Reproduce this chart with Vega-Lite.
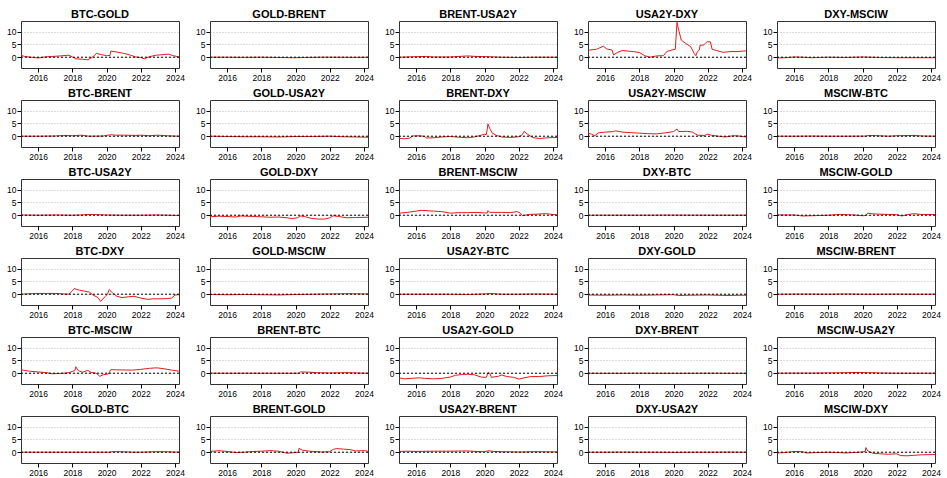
{
"$schema": "https://vega.github.io/schema/vega-lite/v6.json",
"padding": {"left": 6, "top": 8, "right": 0, "bottom": 0},
"background": "white",
"bounds": "flush",
"data": {"values": [
{"p":"BTC-GOLD","t":2015.0,"v":0.8},{"p":"BTC-GOLD","t":2015.2,"v":0.3},{"p":"BTC-GOLD","t":2015.6,"v":0.0},{"p":"BTC-GOLD","t":2016.0,"v":-0.3},{"p":"BTC-GOLD","t":2016.4,"v":0.1},{"p":"BTC-GOLD","t":2016.8,"v":0.3},{"p":"BTC-GOLD","t":2017.3,"v":0.5},{"p":"BTC-GOLD","t":2017.8,"v":0.8},{"p":"BTC-GOLD","t":2018.0,"v":0.1},{"p":"BTC-GOLD","t":2018.2,"v":-0.6},{"p":"BTC-GOLD","t":2018.6,"v":-0.8},{"p":"BTC-GOLD","t":2018.9,"v":-1.0},{"p":"BTC-GOLD","t":2019.1,"v":-0.3},{"p":"BTC-GOLD","t":2019.3,"v":0.7},{"p":"BTC-GOLD","t":2019.4,"v":1.5},{"p":"BTC-GOLD","t":2019.7,"v":1.0},{"p":"BTC-GOLD","t":2020.0,"v":0.6},{"p":"BTC-GOLD","t":2020.2,"v":0.7},{"p":"BTC-GOLD","t":2020.25,"v":2.4},{"p":"BTC-GOLD","t":2020.6,"v":2.0},{"p":"BTC-GOLD","t":2021.0,"v":1.5},{"p":"BTC-GOLD","t":2021.4,"v":0.8},{"p":"BTC-GOLD","t":2021.7,"v":0.1},{"p":"BTC-GOLD","t":2022.0,"v":-0.1},{"p":"BTC-GOLD","t":2022.2,"v":-0.6},{"p":"BTC-GOLD","t":2022.5,"v":0.2},{"p":"BTC-GOLD","t":2022.9,"v":0.8},{"p":"BTC-GOLD","t":2023.3,"v":1.0},{"p":"BTC-GOLD","t":2023.6,"v":1.2},{"p":"BTC-GOLD","t":2023.9,"v":0.6},{"p":"BTC-GOLD","t":2024.23,"v":0.1},
{"p":"GOLD-BRENT","t":2015.0,"v":0.0},{"p":"GOLD-BRENT","t":2016.0,"v":0.0},{"p":"GOLD-BRENT","t":2017.0,"v":-0.05},{"p":"GOLD-BRENT","t":2018.0,"v":0.0},{"p":"GOLD-BRENT","t":2019.0,"v":-0.1},{"p":"GOLD-BRENT","t":2019.9,"v":-0.2},{"p":"GOLD-BRENT","t":2020.5,"v":-0.1},{"p":"GOLD-BRENT","t":2021.5,"v":0.0},{"p":"GOLD-BRENT","t":2022.5,"v":0.0},{"p":"GOLD-BRENT","t":2023.5,"v":-0.05},{"p":"GOLD-BRENT","t":2024.23,"v":0.0},
{"p":"BRENT-USA2Y","t":2015.0,"v":0.0},{"p":"BRENT-USA2Y","t":2016.0,"v":0.2},{"p":"BRENT-USA2Y","t":2016.6,"v":0.3},{"p":"BRENT-USA2Y","t":2017.0,"v":0.1},{"p":"BRENT-USA2Y","t":2018.0,"v":0.1},{"p":"BRENT-USA2Y","t":2018.5,"v":0.3},{"p":"BRENT-USA2Y","t":2019.0,"v":0.5},{"p":"BRENT-USA2Y","t":2019.5,"v":0.3},{"p":"BRENT-USA2Y","t":2020.2,"v":0.2},{"p":"BRENT-USA2Y","t":2021.0,"v":0.0},{"p":"BRENT-USA2Y","t":2022.0,"v":-0.1},{"p":"BRENT-USA2Y","t":2023.0,"v":0.0},{"p":"BRENT-USA2Y","t":2024.23,"v":0.0},
{"p":"USA2Y-DXY","t":2015.0,"v":2.2},{"p":"USA2Y-DXY","t":2015.1,"v":2.8},{"p":"USA2Y-DXY","t":2015.5,"v":3.1},{"p":"USA2Y-DXY","t":2015.7,"v":3.7},{"p":"USA2Y-DXY","t":2015.9,"v":4.3},{"p":"USA2Y-DXY","t":2016.1,"v":3.2},{"p":"USA2Y-DXY","t":2016.4,"v":2.8},{"p":"USA2Y-DXY","t":2016.5,"v":0.9},{"p":"USA2Y-DXY","t":2016.7,"v":1.8},{"p":"USA2Y-DXY","t":2017.0,"v":2.6},{"p":"USA2Y-DXY","t":2017.65,"v":2.2},{"p":"USA2Y-DXY","t":2018.0,"v":1.8},{"p":"USA2Y-DXY","t":2018.35,"v":0.5},{"p":"USA2Y-DXY","t":2018.6,"v":0.0},{"p":"USA2Y-DXY","t":2019.0,"v":0.5},{"p":"USA2Y-DXY","t":2019.4,"v":0.6},{"p":"USA2Y-DXY","t":2019.6,"v":2.2},{"p":"USA2Y-DXY","t":2019.9,"v":2.8},{"p":"USA2Y-DXY","t":2020.1,"v":3.1},{"p":"USA2Y-DXY","t":2020.2,"v":13.6},{"p":"USA2Y-DXY","t":2020.3,"v":10.5},{"p":"USA2Y-DXY","t":2020.45,"v":6.7},{"p":"USA2Y-DXY","t":2020.7,"v":5.4},{"p":"USA2Y-DXY","t":2021.0,"v":4.1},{"p":"USA2Y-DXY","t":2021.2,"v":1.5},{"p":"USA2Y-DXY","t":2021.3,"v":0.6},{"p":"USA2Y-DXY","t":2021.4,"v":2.2},{"p":"USA2Y-DXY","t":2021.5,"v":2.8},{"p":"USA2Y-DXY","t":2021.55,"v":4.7},{"p":"USA2Y-DXY","t":2021.75,"v":4.7},{"p":"USA2Y-DXY","t":2021.85,"v":5.4},{"p":"USA2Y-DXY","t":2021.95,"v":6.0},{"p":"USA2Y-DXY","t":2022.15,"v":6.0},{"p":"USA2Y-DXY","t":2022.25,"v":3.1},{"p":"USA2Y-DXY","t":2022.5,"v":2.6},{"p":"USA2Y-DXY","t":2022.9,"v":1.9},{"p":"USA2Y-DXY","t":2023.3,"v":2.2},{"p":"USA2Y-DXY","t":2023.7,"v":2.2},{"p":"USA2Y-DXY","t":2024.1,"v":2.4},{"p":"USA2Y-DXY","t":2024.23,"v":2.5},
{"p":"DXY-MSCIW","t":2015.0,"v":-0.3},{"p":"DXY-MSCIW","t":2015.5,"v":-0.2},{"p":"DXY-MSCIW","t":2016.0,"v":0.1},{"p":"DXY-MSCIW","t":2016.5,"v":0.0},{"p":"DXY-MSCIW","t":2017.0,"v":-0.2},{"p":"DXY-MSCIW","t":2018.0,"v":0.0},{"p":"DXY-MSCIW","t":2019.0,"v":-0.1},{"p":"DXY-MSCIW","t":2020.0,"v":0.1},{"p":"DXY-MSCIW","t":2021.0,"v":-0.1},{"p":"DXY-MSCIW","t":2022.0,"v":-0.2},{"p":"DXY-MSCIW","t":2023.0,"v":-0.2},{"p":"DXY-MSCIW","t":2024.23,"v":-0.2},
{"p":"BTC-BRENT","t":2015.0,"v":0.0},{"p":"BTC-BRENT","t":2016.0,"v":0.0},{"p":"BTC-BRENT","t":2017.0,"v":0.1},{"p":"BTC-BRENT","t":2017.5,"v":0.3},{"p":"BTC-BRENT","t":2018.0,"v":0.2},{"p":"BTC-BRENT","t":2018.5,"v":0.4},{"p":"BTC-BRENT","t":2019.0,"v":0.0},{"p":"BTC-BRENT","t":2019.8,"v":0.1},{"p":"BTC-BRENT","t":2020.25,"v":0.6},{"p":"BTC-BRENT","t":2020.5,"v":0.4},{"p":"BTC-BRENT","t":2021.0,"v":0.4},{"p":"BTC-BRENT","t":2021.7,"v":0.3},{"p":"BTC-BRENT","t":2022.0,"v":0.4},{"p":"BTC-BRENT","t":2022.5,"v":0.2},{"p":"BTC-BRENT","t":2023.0,"v":0.4},{"p":"BTC-BRENT","t":2023.5,"v":0.2},{"p":"BTC-BRENT","t":2024.23,"v":0.0},
{"p":"GOLD-USA2Y","t":2015.0,"v":0.0},{"p":"GOLD-USA2Y","t":2016.0,"v":-0.1},{"p":"GOLD-USA2Y","t":2017.0,"v":-0.2},{"p":"GOLD-USA2Y","t":2018.0,"v":-0.2},{"p":"GOLD-USA2Y","t":2019.0,"v":-0.3},{"p":"GOLD-USA2Y","t":2020.0,"v":-0.1},{"p":"GOLD-USA2Y","t":2021.0,"v":-0.1},{"p":"GOLD-USA2Y","t":2022.0,"v":0.0},{"p":"GOLD-USA2Y","t":2022.8,"v":-0.2},{"p":"GOLD-USA2Y","t":2023.5,"v":-0.3},{"p":"GOLD-USA2Y","t":2024.23,"v":-0.4},
{"p":"BRENT-DXY","t":2015.0,"v":-0.8},{"p":"BRENT-DXY","t":2015.3,"v":-1.0},{"p":"BRENT-DXY","t":2015.6,"v":-0.8},{"p":"BRENT-DXY","t":2015.8,"v":0.1},{"p":"BRENT-DXY","t":2016.2,"v":0.2},{"p":"BRENT-DXY","t":2016.5,"v":-0.1},{"p":"BRENT-DXY","t":2016.6,"v":-0.7},{"p":"BRENT-DXY","t":2017.0,"v":-0.6},{"p":"BRENT-DXY","t":2017.5,"v":-0.3},{"p":"BRENT-DXY","t":2018.0,"v":-0.1},{"p":"BRENT-DXY","t":2018.5,"v":-0.4},{"p":"BRENT-DXY","t":2019.0,"v":-0.6},{"p":"BRENT-DXY","t":2019.4,"v":-0.3},{"p":"BRENT-DXY","t":2019.8,"v":0.4},{"p":"BRENT-DXY","t":2020.0,"v":0.8},{"p":"BRENT-DXY","t":2020.1,"v":0.6},{"p":"BRENT-DXY","t":2020.2,"v":4.8},{"p":"BRENT-DXY","t":2020.3,"v":3.0},{"p":"BRENT-DXY","t":2020.45,"v":1.2},{"p":"BRENT-DXY","t":2020.7,"v":0.3},{"p":"BRENT-DXY","t":2021.0,"v":-0.3},{"p":"BRENT-DXY","t":2021.5,"v":-0.5},{"p":"BRENT-DXY","t":2022.0,"v":-0.2},{"p":"BRENT-DXY","t":2022.2,"v":0.6},{"p":"BRENT-DXY","t":2022.3,"v":1.9},{"p":"BRENT-DXY","t":2022.5,"v":0.8},{"p":"BRENT-DXY","t":2022.8,"v":-0.5},{"p":"BRENT-DXY","t":2023.2,"v":-0.9},{"p":"BRENT-DXY","t":2023.7,"v":-0.6},{"p":"BRENT-DXY","t":2024.23,"v":-0.5},
{"p":"USA2Y-MSCIW","t":2015.0,"v":1.2},{"p":"USA2Y-MSCIW","t":2015.2,"v":0.8},{"p":"USA2Y-MSCIW","t":2015.4,"v":0.2},{"p":"USA2Y-MSCIW","t":2015.6,"v":1.3},{"p":"USA2Y-MSCIW","t":2016.0,"v":1.6},{"p":"USA2Y-MSCIW","t":2016.5,"v":1.8},{"p":"USA2Y-MSCIW","t":2016.6,"v":2.1},{"p":"USA2Y-MSCIW","t":2017.0,"v":1.6},{"p":"USA2Y-MSCIW","t":2017.5,"v":1.4},{"p":"USA2Y-MSCIW","t":2018.0,"v":1.2},{"p":"USA2Y-MSCIW","t":2018.5,"v":1.0},{"p":"USA2Y-MSCIW","t":2019.0,"v":0.9},{"p":"USA2Y-MSCIW","t":2019.5,"v":1.3},{"p":"USA2Y-MSCIW","t":2020.0,"v":1.8},{"p":"USA2Y-MSCIW","t":2020.2,"v":2.8},{"p":"USA2Y-MSCIW","t":2020.3,"v":1.8},{"p":"USA2Y-MSCIW","t":2020.8,"v":1.9},{"p":"USA2Y-MSCIW","t":2021.1,"v":1.6},{"p":"USA2Y-MSCIW","t":2021.4,"v":0.4},{"p":"USA2Y-MSCIW","t":2021.8,"v":0.3},{"p":"USA2Y-MSCIW","t":2022.0,"v":0.8},{"p":"USA2Y-MSCIW","t":2022.2,"v":0.4},{"p":"USA2Y-MSCIW","t":2022.5,"v":0.1},{"p":"USA2Y-MSCIW","t":2023.0,"v":-0.3},{"p":"USA2Y-MSCIW","t":2023.5,"v":0.2},{"p":"USA2Y-MSCIW","t":2023.8,"v":0.1},{"p":"USA2Y-MSCIW","t":2024.23,"v":-0.3},
{"p":"MSCIW-BTC","t":2015.0,"v":0.0},{"p":"MSCIW-BTC","t":2016.0,"v":0.0},{"p":"MSCIW-BTC","t":2017.0,"v":0.05},{"p":"MSCIW-BTC","t":2018.0,"v":0.0},{"p":"MSCIW-BTC","t":2019.0,"v":0.0},{"p":"MSCIW-BTC","t":2020.2,"v":0.05},{"p":"MSCIW-BTC","t":2020.3,"v":0.3},{"p":"MSCIW-BTC","t":2021.0,"v":0.2},{"p":"MSCIW-BTC","t":2021.5,"v":0.0},{"p":"MSCIW-BTC","t":2022.0,"v":0.2},{"p":"MSCIW-BTC","t":2023.0,"v":0.3},{"p":"MSCIW-BTC","t":2023.5,"v":0.1},{"p":"MSCIW-BTC","t":2024.23,"v":0.0},
{"p":"BTC-USA2Y","t":2015.0,"v":0.1},{"p":"BTC-USA2Y","t":2016.0,"v":0.0},{"p":"BTC-USA2Y","t":2017.0,"v":0.1},{"p":"BTC-USA2Y","t":2018.0,"v":0.0},{"p":"BTC-USA2Y","t":2018.5,"v":0.1},{"p":"BTC-USA2Y","t":2019.0,"v":0.3},{"p":"BTC-USA2Y","t":2019.5,"v":0.2},{"p":"BTC-USA2Y","t":2020.0,"v":0.1},{"p":"BTC-USA2Y","t":2021.0,"v":0.0},{"p":"BTC-USA2Y","t":2022.0,"v":0.0},{"p":"BTC-USA2Y","t":2023.0,"v":0.1},{"p":"BTC-USA2Y","t":2024.23,"v":-0.1},
{"p":"GOLD-DXY","t":2015.0,"v":-0.6},{"p":"GOLD-DXY","t":2015.5,"v":-0.4},{"p":"GOLD-DXY","t":2016.0,"v":-0.5},{"p":"GOLD-DXY","t":2016.5,"v":-0.7},{"p":"GOLD-DXY","t":2016.8,"v":-0.3},{"p":"GOLD-DXY","t":2017.5,"v":-0.5},{"p":"GOLD-DXY","t":2018.0,"v":-0.6},{"p":"GOLD-DXY","t":2018.5,"v":-0.8},{"p":"GOLD-DXY","t":2019.0,"v":-0.7},{"p":"GOLD-DXY","t":2019.5,"v":-1.0},{"p":"GOLD-DXY","t":2019.8,"v":-1.3},{"p":"GOLD-DXY","t":2020.1,"v":-1.0},{"p":"GOLD-DXY","t":2020.3,"v":-0.3},{"p":"GOLD-DXY","t":2020.5,"v":-0.5},{"p":"GOLD-DXY","t":2020.9,"v":-1.2},{"p":"GOLD-DXY","t":2021.3,"v":-1.5},{"p":"GOLD-DXY","t":2021.7,"v":-1.5},{"p":"GOLD-DXY","t":2022.0,"v":-1.0},{"p":"GOLD-DXY","t":2022.2,"v":-0.2},{"p":"GOLD-DXY","t":2022.5,"v":-0.5},{"p":"GOLD-DXY","t":2023.0,"v":-1.0},{"p":"GOLD-DXY","t":2023.5,"v":-0.9},{"p":"GOLD-DXY","t":2024.23,"v":-0.8},
{"p":"BRENT-MSCIW","t":2015.0,"v":0.8},{"p":"BRENT-MSCIW","t":2015.5,"v":1.1},{"p":"BRENT-MSCIW","t":2016.0,"v":1.6},{"p":"BRENT-MSCIW","t":2016.3,"v":1.9},{"p":"BRENT-MSCIW","t":2017.0,"v":1.6},{"p":"BRENT-MSCIW","t":2017.5,"v":1.4},{"p":"BRENT-MSCIW","t":2018.0,"v":0.8},{"p":"BRENT-MSCIW","t":2018.5,"v":1.0},{"p":"BRENT-MSCIW","t":2019.0,"v":1.0},{"p":"BRENT-MSCIW","t":2019.5,"v":1.1},{"p":"BRENT-MSCIW","t":2020.0,"v":0.9},{"p":"BRENT-MSCIW","t":2020.15,"v":0.8},{"p":"BRENT-MSCIW","t":2020.2,"v":1.8},{"p":"BRENT-MSCIW","t":2020.3,"v":1.1},{"p":"BRENT-MSCIW","t":2021.0,"v":1.1},{"p":"BRENT-MSCIW","t":2021.5,"v":1.0},{"p":"BRENT-MSCIW","t":2021.9,"v":1.4},{"p":"BRENT-MSCIW","t":2022.1,"v":0.8},{"p":"BRENT-MSCIW","t":2022.2,"v":-0.2},{"p":"BRENT-MSCIW","t":2022.6,"v":0.3},{"p":"BRENT-MSCIW","t":2023.0,"v":0.4},{"p":"BRENT-MSCIW","t":2023.6,"v":0.6},{"p":"BRENT-MSCIW","t":2024.23,"v":0.1},
{"p":"DXY-BTC","t":2015.0,"v":0.0},{"p":"DXY-BTC","t":2016.0,"v":0.0},{"p":"DXY-BTC","t":2018.0,"v":0.0},{"p":"DXY-BTC","t":2020.0,"v":0.05},{"p":"DXY-BTC","t":2022.0,"v":0.0},{"p":"DXY-BTC","t":2024.23,"v":0.0},
{"p":"MSCIW-GOLD","t":2015.0,"v":0.1},{"p":"MSCIW-GOLD","t":2016.0,"v":0.1},{"p":"MSCIW-GOLD","t":2016.5,"v":-0.3},{"p":"MSCIW-GOLD","t":2017.0,"v":-0.2},{"p":"MSCIW-GOLD","t":2018.0,"v":0.0},{"p":"MSCIW-GOLD","t":2018.7,"v":0.3},{"p":"MSCIW-GOLD","t":2019.5,"v":0.1},{"p":"MSCIW-GOLD","t":2020.0,"v":-0.2},{"p":"MSCIW-GOLD","t":2020.2,"v":-0.1},{"p":"MSCIW-GOLD","t":2020.3,"v":0.8},{"p":"MSCIW-GOLD","t":2020.6,"v":0.5},{"p":"MSCIW-GOLD","t":2021.5,"v":0.3},{"p":"MSCIW-GOLD","t":2022.0,"v":0.2},{"p":"MSCIW-GOLD","t":2022.3,"v":-0.3},{"p":"MSCIW-GOLD","t":2022.6,"v":0.2},{"p":"MSCIW-GOLD","t":2023.0,"v":0.6},{"p":"MSCIW-GOLD","t":2023.4,"v":0.3},{"p":"MSCIW-GOLD","t":2024.23,"v":0.3},
{"p":"BTC-DXY","t":2015.0,"v":0.0},{"p":"BTC-DXY","t":2015.5,"v":0.2},{"p":"BTC-DXY","t":2016.0,"v":0.3},{"p":"BTC-DXY","t":2016.5,"v":0.3},{"p":"BTC-DXY","t":2017.0,"v":0.3},{"p":"BTC-DXY","t":2017.5,"v":0.1},{"p":"BTC-DXY","t":2017.8,"v":0.0},{"p":"BTC-DXY","t":2018.0,"v":1.3},{"p":"BTC-DXY","t":2018.1,"v":2.2},{"p":"BTC-DXY","t":2018.4,"v":1.6},{"p":"BTC-DXY","t":2018.7,"v":1.2},{"p":"BTC-DXY","t":2019.0,"v":0.8},{"p":"BTC-DXY","t":2019.2,"v":-0.3},{"p":"BTC-DXY","t":2019.5,"v":-1.3},{"p":"BTC-DXY","t":2019.65,"v":-2.8},{"p":"BTC-DXY","t":2019.9,"v":-1.0},{"p":"BTC-DXY","t":2020.05,"v":0.0},{"p":"BTC-DXY","t":2020.15,"v":1.8},{"p":"BTC-DXY","t":2020.35,"v":0.5},{"p":"BTC-DXY","t":2020.6,"v":-0.8},{"p":"BTC-DXY","t":2020.9,"v":-1.3},{"p":"BTC-DXY","t":2021.3,"v":-1.0},{"p":"BTC-DXY","t":2021.6,"v":-0.8},{"p":"BTC-DXY","t":2022.0,"v":-1.5},{"p":"BTC-DXY","t":2022.4,"v":-2.0},{"p":"BTC-DXY","t":2022.7,"v":-1.8},{"p":"BTC-DXY","t":2023.0,"v":-1.8},{"p":"BTC-DXY","t":2023.5,"v":-1.7},{"p":"BTC-DXY","t":2023.8,"v":-1.5},{"p":"BTC-DXY","t":2024.0,"v":-0.3},{"p":"BTC-DXY","t":2024.23,"v":-0.2},
{"p":"GOLD-MSCIW","t":2015.0,"v":-0.1},{"p":"GOLD-MSCIW","t":2016.0,"v":-0.2},{"p":"GOLD-MSCIW","t":2017.0,"v":-0.1},{"p":"GOLD-MSCIW","t":2018.0,"v":-0.2},{"p":"GOLD-MSCIW","t":2019.0,"v":-0.3},{"p":"GOLD-MSCIW","t":2020.0,"v":-0.1},{"p":"GOLD-MSCIW","t":2021.0,"v":0.0},{"p":"GOLD-MSCIW","t":2022.0,"v":0.1},{"p":"GOLD-MSCIW","t":2023.0,"v":0.2},{"p":"GOLD-MSCIW","t":2024.23,"v":0.1},
{"p":"USA2Y-BTC","t":2015.0,"v":0.0},{"p":"USA2Y-BTC","t":2016.0,"v":0.0},{"p":"USA2Y-BTC","t":2017.0,"v":0.0},{"p":"USA2Y-BTC","t":2018.0,"v":0.0},{"p":"USA2Y-BTC","t":2019.0,"v":-0.1},{"p":"USA2Y-BTC","t":2020.0,"v":0.1},{"p":"USA2Y-BTC","t":2020.3,"v":0.3},{"p":"USA2Y-BTC","t":2021.0,"v":0.0},{"p":"USA2Y-BTC","t":2022.0,"v":0.0},{"p":"USA2Y-BTC","t":2023.0,"v":0.1},{"p":"USA2Y-BTC","t":2024.23,"v":0.0},
{"p":"DXY-GOLD","t":2015.0,"v":-0.3},{"p":"DXY-GOLD","t":2016.0,"v":-0.4},{"p":"DXY-GOLD","t":2017.0,"v":-0.3},{"p":"DXY-GOLD","t":2018.0,"v":-0.4},{"p":"DXY-GOLD","t":2019.0,"v":-0.3},{"p":"DXY-GOLD","t":2020.0,"v":-0.2},{"p":"DXY-GOLD","t":2020.3,"v":-0.5},{"p":"DXY-GOLD","t":2021.0,"v":-0.4},{"p":"DXY-GOLD","t":2022.0,"v":-0.3},{"p":"DXY-GOLD","t":2023.0,"v":-0.5},{"p":"DXY-GOLD","t":2024.23,"v":-0.4},
{"p":"MSCIW-BRENT","t":2015.0,"v":0.0},{"p":"MSCIW-BRENT","t":2016.0,"v":0.05},{"p":"MSCIW-BRENT","t":2017.0,"v":0.05},{"p":"MSCIW-BRENT","t":2018.0,"v":0.0},{"p":"MSCIW-BRENT","t":2019.0,"v":0.1},{"p":"MSCIW-BRENT","t":2020.0,"v":0.0},{"p":"MSCIW-BRENT","t":2021.0,"v":0.0},{"p":"MSCIW-BRENT","t":2022.0,"v":0.05},{"p":"MSCIW-BRENT","t":2023.0,"v":0.0},{"p":"MSCIW-BRENT","t":2024.23,"v":0.0},
{"p":"BTC-MSCIW","t":2015.0,"v":1.3},{"p":"BTC-MSCIW","t":2015.5,"v":0.8},{"p":"BTC-MSCIW","t":2016.0,"v":0.5},{"p":"BTC-MSCIW","t":2016.5,"v":0.2},{"p":"BTC-MSCIW","t":2016.8,"v":-0.2},{"p":"BTC-MSCIW","t":2017.3,"v":-0.1},{"p":"BTC-MSCIW","t":2017.8,"v":0.2},{"p":"BTC-MSCIW","t":2018.0,"v":0.7},{"p":"BTC-MSCIW","t":2018.15,"v":1.0},{"p":"BTC-MSCIW","t":2018.2,"v":2.5},{"p":"BTC-MSCIW","t":2018.35,"v":1.0},{"p":"BTC-MSCIW","t":2018.6,"v":0.4},{"p":"BTC-MSCIW","t":2018.9,"v":1.1},{"p":"BTC-MSCIW","t":2019.1,"v":0.3},{"p":"BTC-MSCIW","t":2019.4,"v":0.0},{"p":"BTC-MSCIW","t":2019.6,"v":-1.2},{"p":"BTC-MSCIW","t":2019.8,"v":-0.6},{"p":"BTC-MSCIW","t":2020.1,"v":-0.3},{"p":"BTC-MSCIW","t":2020.25,"v":1.4},{"p":"BTC-MSCIW","t":2020.6,"v":1.3},{"p":"BTC-MSCIW","t":2021.5,"v":1.2},{"p":"BTC-MSCIW","t":2022.0,"v":1.5},{"p":"BTC-MSCIW","t":2022.5,"v":1.9},{"p":"BTC-MSCIW","t":2022.9,"v":2.1},{"p":"BTC-MSCIW","t":2023.3,"v":1.8},{"p":"BTC-MSCIW","t":2023.8,"v":1.2},{"p":"BTC-MSCIW","t":2024.23,"v":0.8},
{"p":"BRENT-BTC","t":2015.0,"v":0.0},{"p":"BRENT-BTC","t":2016.0,"v":0.0},{"p":"BRENT-BTC","t":2017.0,"v":0.0},{"p":"BRENT-BTC","t":2018.0,"v":0.0},{"p":"BRENT-BTC","t":2019.0,"v":0.0},{"p":"BRENT-BTC","t":2020.2,"v":0.0},{"p":"BRENT-BTC","t":2020.3,"v":0.5},{"p":"BRENT-BTC","t":2020.8,"v":0.4},{"p":"BRENT-BTC","t":2021.2,"v":0.2},{"p":"BRENT-BTC","t":2022.0,"v":0.1},{"p":"BRENT-BTC","t":2023.0,"v":0.2},{"p":"BRENT-BTC","t":2024.23,"v":0.0},
{"p":"USA2Y-GOLD","t":2015.0,"v":-1.8},{"p":"USA2Y-GOLD","t":2015.3,"v":-2.2},{"p":"USA2Y-GOLD","t":2015.7,"v":-2.0},{"p":"USA2Y-GOLD","t":2016.2,"v":-1.8},{"p":"USA2Y-GOLD","t":2016.5,"v":-2.0},{"p":"USA2Y-GOLD","t":2017.0,"v":-2.2},{"p":"USA2Y-GOLD","t":2017.5,"v":-2.0},{"p":"USA2Y-GOLD","t":2018.0,"v":-1.5},{"p":"USA2Y-GOLD","t":2018.3,"v":-0.8},{"p":"USA2Y-GOLD","t":2018.7,"v":-0.5},{"p":"USA2Y-GOLD","t":2019.0,"v":-0.4},{"p":"USA2Y-GOLD","t":2019.4,"v":-0.6},{"p":"USA2Y-GOLD","t":2019.8,"v":-1.5},{"p":"USA2Y-GOLD","t":2020.1,"v":-1.6},{"p":"USA2Y-GOLD","t":2020.2,"v":0.2},{"p":"USA2Y-GOLD","t":2020.3,"v":0.0},{"p":"USA2Y-GOLD","t":2020.4,"v":-1.6},{"p":"USA2Y-GOLD","t":2020.8,"v":-1.2},{"p":"USA2Y-GOLD","t":2021.0,"v":-0.7},{"p":"USA2Y-GOLD","t":2021.3,"v":-1.3},{"p":"USA2Y-GOLD","t":2021.7,"v":-1.6},{"p":"USA2Y-GOLD","t":2022.0,"v":-2.3},{"p":"USA2Y-GOLD","t":2022.3,"v":-1.8},{"p":"USA2Y-GOLD","t":2022.7,"v":-1.3},{"p":"USA2Y-GOLD","t":2023.2,"v":-1.3},{"p":"USA2Y-GOLD","t":2023.7,"v":-1.0},{"p":"USA2Y-GOLD","t":2024.23,"v":-0.9},
{"p":"DXY-BRENT","t":2015.0,"v":0.0},{"p":"DXY-BRENT","t":2016.0,"v":-0.05},{"p":"DXY-BRENT","t":2018.0,"v":0.0},{"p":"DXY-BRENT","t":2020.0,"v":-0.05},{"p":"DXY-BRENT","t":2022.0,"v":0.0},{"p":"DXY-BRENT","t":2024.23,"v":-0.05},
{"p":"MSCIW-USA2Y","t":2015.0,"v":0.0},{"p":"MSCIW-USA2Y","t":2016.0,"v":0.05},{"p":"MSCIW-USA2Y","t":2017.0,"v":0.05},{"p":"MSCIW-USA2Y","t":2018.0,"v":0.1},{"p":"MSCIW-USA2Y","t":2019.0,"v":0.2},{"p":"MSCIW-USA2Y","t":2019.8,"v":0.3},{"p":"MSCIW-USA2Y","t":2020.3,"v":0.2},{"p":"MSCIW-USA2Y","t":2021.0,"v":0.1},{"p":"MSCIW-USA2Y","t":2022.0,"v":0.0},{"p":"MSCIW-USA2Y","t":2023.0,"v":0.0},{"p":"MSCIW-USA2Y","t":2024.23,"v":0.0},
{"p":"GOLD-BTC","t":2015.0,"v":0.0},{"p":"GOLD-BTC","t":2016.0,"v":0.0},{"p":"GOLD-BTC","t":2017.0,"v":0.0},{"p":"GOLD-BTC","t":2018.0,"v":0.0},{"p":"GOLD-BTC","t":2019.0,"v":0.0},{"p":"GOLD-BTC","t":2020.2,"v":0.0},{"p":"GOLD-BTC","t":2020.3,"v":0.2},{"p":"GOLD-BTC","t":2021.0,"v":0.2},{"p":"GOLD-BTC","t":2021.5,"v":0.0},{"p":"GOLD-BTC","t":2022.0,"v":0.0},{"p":"GOLD-BTC","t":2022.8,"v":0.2},{"p":"GOLD-BTC","t":2023.5,"v":0.2},{"p":"GOLD-BTC","t":2024.23,"v":0.0},
{"p":"BRENT-GOLD","t":2015.0,"v":0.3},{"p":"BRENT-GOLD","t":2015.5,"v":0.6},{"p":"BRENT-GOLD","t":2016.0,"v":0.3},{"p":"BRENT-GOLD","t":2016.5,"v":-0.1},{"p":"BRENT-GOLD","t":2017.0,"v":0.0},{"p":"BRENT-GOLD","t":2017.5,"v":0.3},{"p":"BRENT-GOLD","t":2018.0,"v":0.4},{"p":"BRENT-GOLD","t":2018.5,"v":0.6},{"p":"BRENT-GOLD","t":2019.0,"v":0.4},{"p":"BRENT-GOLD","t":2019.5,"v":-0.4},{"p":"BRENT-GOLD","t":2019.9,"v":-0.2},{"p":"BRENT-GOLD","t":2020.15,"v":0.0},{"p":"BRENT-GOLD","t":2020.2,"v":1.5},{"p":"BRENT-GOLD","t":2020.4,"v":0.8},{"p":"BRENT-GOLD","t":2020.8,"v":0.4},{"p":"BRENT-GOLD","t":2021.5,"v":0.1},{"p":"BRENT-GOLD","t":2022.0,"v":0.2},{"p":"BRENT-GOLD","t":2022.2,"v":1.1},{"p":"BRENT-GOLD","t":2022.4,"v":1.4},{"p":"BRENT-GOLD","t":2022.8,"v":1.2},{"p":"BRENT-GOLD","t":2023.2,"v":1.0},{"p":"BRENT-GOLD","t":2023.5,"v":0.5},{"p":"BRENT-GOLD","t":2024.0,"v":0.6},{"p":"BRENT-GOLD","t":2024.23,"v":0.4},
{"p":"USA2Y-BRENT","t":2015.0,"v":0.3},{"p":"USA2Y-BRENT","t":2015.5,"v":0.4},{"p":"USA2Y-BRENT","t":2016.0,"v":0.3},{"p":"USA2Y-BRENT","t":2017.0,"v":0.4},{"p":"USA2Y-BRENT","t":2018.0,"v":0.4},{"p":"USA2Y-BRENT","t":2019.0,"v":0.5},{"p":"USA2Y-BRENT","t":2019.5,"v":0.3},{"p":"USA2Y-BRENT","t":2020.0,"v":0.2},{"p":"USA2Y-BRENT","t":2020.25,"v":0.6},{"p":"USA2Y-BRENT","t":2020.5,"v":0.3},{"p":"USA2Y-BRENT","t":2021.0,"v":0.2},{"p":"USA2Y-BRENT","t":2022.0,"v":0.1},{"p":"USA2Y-BRENT","t":2023.0,"v":0.2},{"p":"USA2Y-BRENT","t":2024.23,"v":0.1},
{"p":"DXY-USA2Y","t":2015.0,"v":0.0},{"p":"DXY-USA2Y","t":2016.0,"v":0.0},{"p":"DXY-USA2Y","t":2017.0,"v":0.05},{"p":"DXY-USA2Y","t":2018.0,"v":0.0},{"p":"DXY-USA2Y","t":2019.0,"v":0.0},{"p":"DXY-USA2Y","t":2020.0,"v":-0.05},{"p":"DXY-USA2Y","t":2021.0,"v":0.0},{"p":"DXY-USA2Y","t":2022.0,"v":0.0},{"p":"DXY-USA2Y","t":2023.0,"v":0.05},{"p":"DXY-USA2Y","t":2024.23,"v":0.0},
{"p":"MSCIW-DXY","t":2015.0,"v":-0.3},{"p":"MSCIW-DXY","t":2015.5,"v":-0.1},{"p":"MSCIW-DXY","t":2016.0,"v":0.3},{"p":"MSCIW-DXY","t":2016.5,"v":0.2},{"p":"MSCIW-DXY","t":2016.7,"v":-0.3},{"p":"MSCIW-DXY","t":2017.5,"v":-0.1},{"p":"MSCIW-DXY","t":2018.0,"v":0.0},{"p":"MSCIW-DXY","t":2018.5,"v":-0.1},{"p":"MSCIW-DXY","t":2019.0,"v":-0.3},{"p":"MSCIW-DXY","t":2019.5,"v":-0.1},{"p":"MSCIW-DXY","t":2020.0,"v":0.1},{"p":"MSCIW-DXY","t":2020.15,"v":0.3},{"p":"MSCIW-DXY","t":2020.2,"v":1.8},{"p":"MSCIW-DXY","t":2020.3,"v":0.5},{"p":"MSCIW-DXY","t":2020.6,"v":-0.4},{"p":"MSCIW-DXY","t":2021.0,"v":-0.6},{"p":"MSCIW-DXY","t":2021.5,"v":-0.8},{"p":"MSCIW-DXY","t":2022.0,"v":-0.6},{"p":"MSCIW-DXY","t":2022.2,"v":-1.3},{"p":"MSCIW-DXY","t":2022.6,"v":-1.4},{"p":"MSCIW-DXY","t":2023.0,"v":-1.2},{"p":"MSCIW-DXY","t":2023.5,"v":-1.0},{"p":"MSCIW-DXY","t":2024.23,"v":-0.9}
]},
"facet": {"field": "p", "type": "nominal", "title": null,
  "sort": ["BTC-GOLD","GOLD-BRENT","BRENT-USA2Y","USA2Y-DXY","DXY-MSCIW","BTC-BRENT","GOLD-USA2Y","BRENT-DXY","USA2Y-MSCIW","MSCIW-BTC","BTC-USA2Y","GOLD-DXY","BRENT-MSCIW","DXY-BTC","MSCIW-GOLD","BTC-DXY","GOLD-MSCIW","USA2Y-BTC","DXY-GOLD","MSCIW-BRENT","BTC-MSCIW","BRENT-BTC","USA2Y-GOLD","DXY-BRENT","MSCIW-USA2Y","GOLD-BTC","BRENT-GOLD","USA2Y-BRENT","DXY-USA2Y","MSCIW-DXY"],
  "header": {"labelFont": "Liberation Sans", "labelFontSize": 11, "labelFontWeight": "bold", "labelColor": "black", "labelPadding": 1}},
"columns": 5,
"spacing": {"column": 31, "row": 32},
"resolve": {"axis": {"x": "independent", "y": "independent"}},
"spec": {
  "width": 158, "height": 47,
  "layer": [
    {"mark": {"type": "line", "color": "#e41a1c", "strokeWidth": 1, "clip": true},
     "encoding": {
       "x": {"field": "t", "type": "quantitative", "title": null,
             "scale": {"domain": [2015.0, 2024.23], "nice": false, "zero": false},
             "axis": {"values": [2016, 2018, 2020, 2022, 2024], "format": "d", "grid": false}},
       "y": {"field": "v", "type": "quantitative", "title": null,
             "scale": {"domain": [-4.2, 14.1], "nice": false, "zero": false},
             "axis": {"values": [0, 5, 10], "grid": true, "gridDash": [1, 2], "gridColor": "#bbbbbb", "labelOverlap": false}}
     }},
    {"transform": [{"aggregate": [{"op": "count", "as": "n"}], "groupby": ["p"]}],
     "mark": {"type": "rule", "color": "black", "strokeDash": [2, 2], "strokeWidth": 1},
     "encoding": {"y": {"datum": 0, "type": "quantitative", "title": null,
             "scale": {"domain": [-4.2, 14.1], "nice": false, "zero": false},
             "axis": {"values": [0, 5, 10], "grid": true, "gridDash": [1, 2], "gridColor": "#bbbbbb", "labelOverlap": false}}}}
  ]
},
"config": {
  "font": "Liberation Sans",
  "view": {"stroke": "#333333", "strokeWidth": 1},
  "axis": {"domain": false, "labelFont": "Liberation Sans", "labelFontSize": 8.5, "labelColor": "black", "tickColor": "black", "tickSize": 4, "labelPadding": 1, "labelBound": false, "labelFlush": false, "labelOverlap": false}
}
}
